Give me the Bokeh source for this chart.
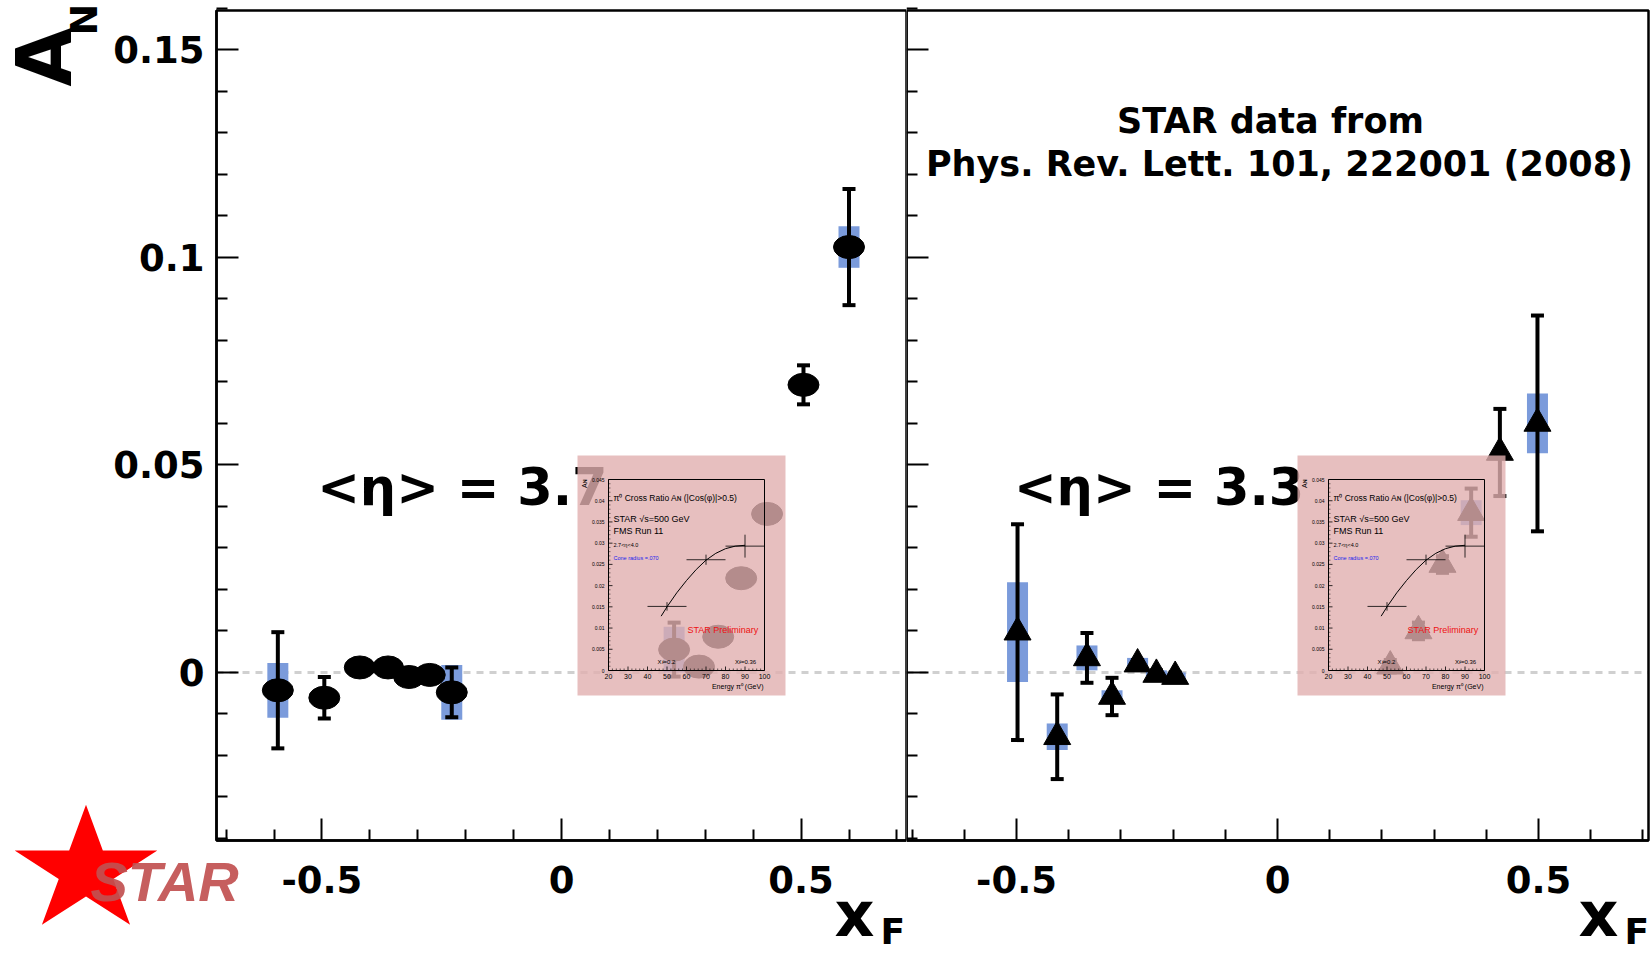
import numpy as np
from math import pi, sin, cos
from bokeh.plotting import figure
from bokeh.models import Range1d, FixedTicker, Label, LinearAxis, BoxAnnotation
from bokeh.layouts import row
from bokeh.core.properties import value
from bokeh.embed import file_html
from bokeh.resources import INLINE

# ---------------- data ----------------
# left panel, <eta> = 3.7
left_xf   = [-0.592, -0.495, -0.421, -0.362, -0.318, -0.275, -0.229, 0.235, 0.287, 0.327, 0.375, 0.429, 0.505, 0.600]
left_an   = [-0.0043, -0.0061, 0.0012, 0.0012, -0.0011, -0.0006, -0.0048, 0.0055, 0.0014, 0.0086, 0.0227, 0.0382, 0.0693, 0.1025]
left_stat = [0.0140, 0.0050, 0.0010, 0.0010, 0.0010, 0.0010, 0.0060, 0.0065, 0.0015, 0.0015, 0.0015, 0.0015, 0.0047, 0.0140]
left_sys  = [0.0066, 0.0, 0.0, 0.0, 0.0, 0.0, 0.0066, 0.0055, 0.0, 0.0, 0.0, 0.0, 0.0, 0.0050]

# right panel, <eta> = 3.3 (PRL 101, 222001)
right_xf   = [-0.498, -0.422, -0.365, -0.317, -0.268, -0.232, -0.196, 0.216, 0.270, 0.316, 0.371, 0.426, 0.498]
right_an   = [0.0097, -0.0155, 0.0035, -0.0058, 0.0020, -0.0005, -0.0010, 0.0015, 0.0100, 0.0260, 0.0385, 0.0530, 0.0600]
right_stat = [0.0260, 0.0102, 0.0060, 0.0045, 0.0010, 0.0010, 0.0010, 0.0015, 0.0020, 0.0020, 0.0058, 0.0105, 0.0260]
right_sys  = [0.0120, 0.0032, 0.0030, 0.0015, 0.0015, 0.0010, 0.0010, 0.0, 0.0, 0.0, 0.0030, 0.0, 0.0072]

# inset: pi0 cross ratio A_N vs energy
inset_e      = [50, 70, 90]
inset_e_err  = [10, 10, 10]
inset_an     = [0.0151, 0.0261, 0.0293]
inset_an_err = [0.0010, 0.0012, 0.0027]
fit_e  = [47, 50, 55, 60, 65, 70, 75, 80, 85, 90]
fit_an = [0.0128, 0.0150, 0.0183, 0.0212, 0.0238, 0.0260, 0.0276, 0.0287, 0.0293, 0.0295]

# ticks
x_major = [-0.5, 0.0, 0.5]
x_minor = [-0.7, -0.6, -0.4, -0.3, -0.2, -0.1, 0.1, 0.2, 0.3, 0.4, 0.6, 0.7]
x_labels = {-0.5: "-0.5", 0.0: "0", 0.5: "0.5"}
y_major = [0.0, 0.05, 0.1, 0.15]
y_minor = [-0.04, -0.03, -0.02, -0.01, 0.01, 0.02, 0.03, 0.04, 0.06, 0.07, 0.08, 0.09,
           0.11, 0.12, 0.13, 0.14, 0.16]
y_labels = {0.0: "0", 0.05: "0.05", 0.1: "0.1", 0.15: "0.15"}
y_blank = {0.0: "", 0.05: "", 0.1: "", 0.15: ""}

inset_x_major = [20, 30, 40, 50, 60, 70, 80, 90, 100]
inset_x_minor = [22, 24, 26, 28, 32, 34, 36, 38, 42, 44, 46, 48, 52, 54, 56, 58, 62, 64, 66, 68,
                 72, 74, 76, 78, 82, 84, 86, 88, 92, 94, 96, 98]
inset_y_major = [0.0, 0.005, 0.01, 0.015, 0.02, 0.025, 0.03, 0.035, 0.04, 0.045]
inset_y_labels = ["0", "0.005", "0.01", "0.015", "0.02", "0.025", "0.03", "0.035", "0.04", "0.045"]

# ---------------- layout constants (page pixels) ----------------
FONT = "DejaVu Sans"
CANVAS_H = 953
PANEL_TOP, PANEL_BOTTOM = 10, 840
L_CANVAS, R_CANVAS = (0, 906), (906, 1650)
L_PANEL, R_PANEL = (216, 906), (906, 1648)
XR_L = (-0.72, 0.72)
XR_R = (-0.7107, 0.7107)
YR = (-0.0405, 0.1595)
BASELINE_FIX = 0.37   # Label text sits this many em below its anchor

INSET_LEFTS = [577, 1297]
INSET_TOP = 455
INSET_W, INSET_H = 208, 240
INNER_L, INNER_T, INNER_R, INNER_B = 31, 24, 187, 215
E_RANGE = (20, 100)
A_RANGE = (0.0, 0.045)
PINK = "#e1afaf"
BLUE = "#7b9bdb"
SY = (PANEL_BOTTOM - PANEL_TOP) / (YR[1] - YR[0])


def make_fig(canvas, panel, xr, show_y_labels):
    cx0, cx1 = canvas
    pl, pr = panel
    sx = (pr - pl) / (xr[1] - xr[0])
    x_rng = Range1d(xr[0] - (pl - cx0) / sx, xr[1] + (cx1 - pr) / sx)
    y_rng = Range1d(YR[0] - (CANVAS_H - PANEL_BOTTOM) / SY, YR[1] + PANEL_TOP / SY)
    p = figure(width=cx1 - cx0, height=CANVAS_H, x_range=x_rng, y_range=y_rng,
               x_axis_location=None, y_axis_location=None, min_border=0,
               output_backend="svg", toolbar_location=None,
               background_fill_color="white", border_fill_color="white")
    p.grid.visible = False
    p.outline_line_color = None
    common = dict(axis_line_width=2.5, major_tick_in=22, major_tick_out=0,
                  minor_tick_in=11, minor_tick_out=0,
                  major_tick_line_width=2, minor_tick_line_width=2,
                  major_label_text_font=FONT, major_label_text_font_style="bold",
                  major_label_text_font_size="37px", major_label_text_color="black")
    xa = LinearAxis(fixed_location=YR[0], bounds=xr,
                    ticker=FixedTicker(ticks=x_major, minor_ticks=x_minor),
                    major_label_overrides=x_labels, major_label_standoff=25, **common)
    p.add_layout(xa, "below")
    ya = LinearAxis(fixed_location=xr[0], bounds=YR,
                    ticker=FixedTicker(ticks=y_major, minor_ticks=y_minor),
                    major_label_overrides=(y_labels if show_y_labels else y_blank),
                    major_label_standoff=12, **common)
    p.add_layout(ya, "left")
    p.add_layout(BoxAnnotation(left=xr[0], right=xr[1], bottom=YR[0], top=YR[1],
                               fill_color=None, fill_alpha=0, line_color="black",
                               line_alpha=1.0, line_width=2.5))
    p.segment(x0=[xr[0]], y0=[0.0], x1=[xr[1]], y1=[0.0], line_color="#d0d0d0",
              line_width=3, line_dash="7 6", level="underlay")

    def to_x(px):
        return x_rng.start + (px - cx0) / sx

    def to_y(py):
        return y_rng.start + (CANVAS_H - py) / SY

    return p, to_x, to_y


def draw_data(p, xs, ys, stat, sys, kind):
    bx = [x for x, s in zip(xs, sys) if s > 0]
    by = [y for y, s in zip(ys, sys) if s > 0]
    bh = [2 * s for s in sys if s > 0]
    p.rect(x=bx, y=by, width=21, width_units="screen", height=bh,
           fill_color=BLUE, line_color=None)
    lo = [y - e for y, e in zip(ys, stat)]
    hi = [y + e for y, e in zip(ys, stat)]
    if kind == "circle":
        p.ellipse(x=xs, y=ys, width=31, height=23, width_units="screen", height_units="screen",
                  fill_color="black", line_color="black")
    else:
        p.scatter(x=xs, y=ys, marker="triangle", size=27, fill_color="black", line_color="black")
    p.segment(x0=xs, y0=lo, x1=xs, y1=hi, line_color="black", line_width=4)
    p.scatter(x=xs + xs, y=lo + hi, marker="dash", size=13, line_color="black", line_width=4)


def draw_inset(p, canvas, inset_left):
    cx0, cx1 = canvas
    ppe = (INNER_R - INNER_L) / (E_RANGE[1] - E_RANGE[0])
    ppa = (INNER_B - INNER_T) / (A_RANGE[1] - A_RANGE[0])
    e0 = E_RANGE[0] - (inset_left + INNER_L - cx0) / ppe
    a0 = A_RANGE[0] - (CANVAS_H - (INSET_TOP + INNER_B)) / ppa
    p.extra_x_ranges = {"ex": Range1d(e0, e0 + (cx1 - cx0) / ppe)}
    p.extra_y_ranges = {"ey": Range1d(a0, a0 + CANVAS_H / ppa)}
    kw = dict(x_range_name="ex", y_range_name="ey", level="overlay")

    def ex(px):  # inset-local pixel -> energy
        return E_RANGE[0] + (px - INNER_L) / ppe

    def ay(py):  # inset-local pixel -> A_N
        return A_RANGE[0] + (INNER_B - py) / ppa

    # translucent pink picture
    p.quad(left=[ex(0)], right=[ex(INSET_W)], top=[ay(0)], bottom=[ay(INSET_H)],
           fill_color=PINK, fill_alpha=0.8, line_color=None, **kw)
    # inner frame
    p.quad(left=[E_RANGE[0]], right=[E_RANGE[1]], top=[A_RANGE[1]], bottom=[A_RANGE[0]],
           fill_color=None, line_color="black", line_width=1, **kw)
    # ticks
    nM, nm = len(inset_x_major), len(inset_x_minor)
    p.segment(x0=inset_x_major, y0=[A_RANGE[0]] * nM, x1=inset_x_major, y1=[A_RANGE[0] + 4 / ppa] * nM,
              line_color="black", line_width=0.8, **kw)
    p.segment(x0=inset_x_minor, y0=[A_RANGE[0]] * nm, x1=inset_x_minor, y1=[A_RANGE[0] + 2 / ppa] * nm,
              line_color="black", line_width=0.6, **kw)
    nyM = len(inset_y_major)
    p.segment(x0=[E_RANGE[0]] * nyM, y0=inset_y_major, x1=[E_RANGE[0] + 4 / ppe] * nyM, y1=inset_y_major,
              line_color="black", line_width=0.8, **kw)
    ym = [round(0.001 * i, 3) for i in range(46) if i % 5 != 0]
    p.segment(x0=[E_RANGE[0]] * len(ym), y0=ym, x1=[E_RANGE[0] + 2 / ppe] * len(ym), y1=ym,
              line_color="black", line_width=0.5, **kw)
    # tick labels
    p.text(x=inset_x_major, y=[ay(221)] * nM, text=[str(v) for v in inset_x_major],
           text_font=value("Liberation Sans"), text_font_size="7px", text_align="center",
           text_baseline="middle", text_color="black", **kw)
    p.text(x=[ex(27)] * nyM, y=inset_y_major, text=inset_y_labels,
           text_font=value("Liberation Sans"), text_font_size="5px", text_align="right",
           text_baseline="middle", text_color="black", **kw)
    # fit curve and points
    p.line(x=fit_e, y=fit_an, line_color="black", line_width=1, **kw)
    p.segment(x0=[e - d for e, d in zip(inset_e, inset_e_err)], y0=inset_an,
              x1=[e + d for e, d in zip(inset_e, inset_e_err)], y1=inset_an,
              line_color="black", line_width=0.8, **kw)
    p.segment(x0=inset_e, y0=[a - d for a, d in zip(inset_an, inset_an_err)],
              x1=inset_e, y1=[a + d for a, d in zip(inset_an, inset_an_err)],
              line_color="black", line_width=0.8, **kw)
    # texts
    texts = [
        ("π⁰ Cross Ratio Aɴ (|Cos(φ)|>0.5)", ex(36), ay(42), "8.5px", "black", "left"),
        ("STAR  √s=500 GeV", ex(36), ay(63), "9px", "black", "left"),
        ("FMS Run 11", ex(36), ay(75), "9px", "black", "left"),
        ("2.7<η<4.0", ex(36), ay(89), "5.5px", "black", "left"),
        ("Cone radius =.070", ex(36), ay(102), "5.5px", "#2222ee", "left"),
        ("STAR Preliminary", ex(110), ay(174), "9px", "#ee1111", "left"),
        ("Xꜰ=0.2", ex(89), ay(206), "6px", "black", "center"),
        ("Xꜰ=0.36", ex(168), ay(206), "6px", "black", "center"),
        ("Energy π⁰ (GeV)", ex(186), ay(231), "7px", "black", "right"),
    ]
    for t, x, y, s, c, a in texts:
        p.text(x=[x], y=[y], text=[t], text_font=value("Liberation Sans"), text_font_size=s,
               text_color=c, text_align=a, text_baseline="middle", **kw)
    p.text(x=[ex(7)], y=[ay(24)], text=["Aɴ"], angle=pi / 2, text_font=value("Liberation Sans"),
           text_font_size="7px", text_color="black", text_align="right", text_baseline="middle", **kw)


def page_label(p, canvas, px, py, text, size, font=FONT, style="bold", angle=0.0, **kw):
    # (px, py): wanted baseline anchor in page pixels
    d = BASELINE_FIX * size
    ax = px - d * sin(angle)
    ay_ = py - d * cos(angle)
    p.add_layout(Label(x=ax - canvas[0], y=CANVAS_H - ay_, x_units="screen", y_units="screen",
                       text=text, text_font=font, text_font_size=f"{size}px", text_font_style=style,
                       angle=angle, text_baseline="alphabetic", **kw))


ETA_SIZE = 51

# ---------------- left panel ----------------
p1, l_to_x, l_to_y = make_fig(L_CANVAS, L_PANEL, XR_L, True)
draw_data(p1, left_xf, left_an, left_stat, left_sys, "circle")
p1.add_layout(Label(x=-0.51, y=0.04 + BASELINE_FIX * ETA_SIZE / SY, text="<η> = 3.7", text_font=FONT,
                    text_font_style="bold", text_font_size=f"{ETA_SIZE}px",
                    text_baseline="alphabetic", text_color="black"))
draw_inset(p1, L_CANVAS, INSET_LEFTS[0])

# axis title A_N (rotated)
page_label(p1, L_CANVAS, 72, 86, "A", 76, angle=pi / 2, text_align="left", text_color="black")
page_label(p1, L_CANVAS, 98, 35, "N", 38, angle=pi / 2, text_align="left", text_color="black")
# x_F
page_label(p1, L_CANVAS, 834, 937, "x", 62, text_align="left", text_color="black")
page_label(p1, L_CANVAS, 880, 944, "F", 36, text_align="left", text_color="black")

# STAR logo
STAR_CX, STAR_CY, STAR_RX, STAR_RY, STAR_INNER = 85.5, 870.6, 75.0, 66.3, 0.382
ang = np.pi / 2 + np.arange(10) * np.pi / 5
rad = np.where(np.arange(10) % 2 == 0, 1.0, STAR_INNER)
star_px = STAR_CX + STAR_RX * rad * np.cos(ang)
star_py = STAR_CY - STAR_RY * rad * np.sin(ang)
p1.patch(x=[l_to_x(v) for v in star_px], y=[l_to_y(v) for v in star_py],
         fill_color="#ff0000", line_color=None, level="annotation")
page_label(p1, L_CANVAS, 90, 902, "STAR", 56, font="Liberation Sans", style="bold italic",
           text_align="left", text_color="#c15050", text_alpha=0.92)

# ---------------- right panel ----------------
p2, r_to_x, r_to_y = make_fig(R_CANVAS, R_PANEL, XR_R, False)
draw_data(p2, right_xf, right_an, right_stat, right_sys, "triangle")
p2.add_layout(Label(x=-0.505, y=0.04 + BASELINE_FIX * ETA_SIZE / SY, text="<η> = 3.3", text_font=FONT,
                    text_font_style="bold", text_font_size=f"{ETA_SIZE}px",
                    text_baseline="alphabetic", text_color="black"))
draw_inset(p2, R_CANVAS, INSET_LEFTS[1])
page_label(p2, R_CANVAS, 1270, 133, "STAR data from", 35, text_align="center", text_color="black")
page_label(p2, R_CANVAS, 1279, 176, "Phys. Rev. Lett. 101, 222001 (2008)", 35,
           text_align="center", text_color="black")
page_label(p2, R_CANVAS, 1578, 937, "x", 62, text_align="left", text_color="black")
page_label(p2, R_CANVAS, 1624, 944, "F", 36, text_align="left", text_color="black")

layout = row(p1, p2)
open("out.html", "w").write(file_html(layout, INLINE))
